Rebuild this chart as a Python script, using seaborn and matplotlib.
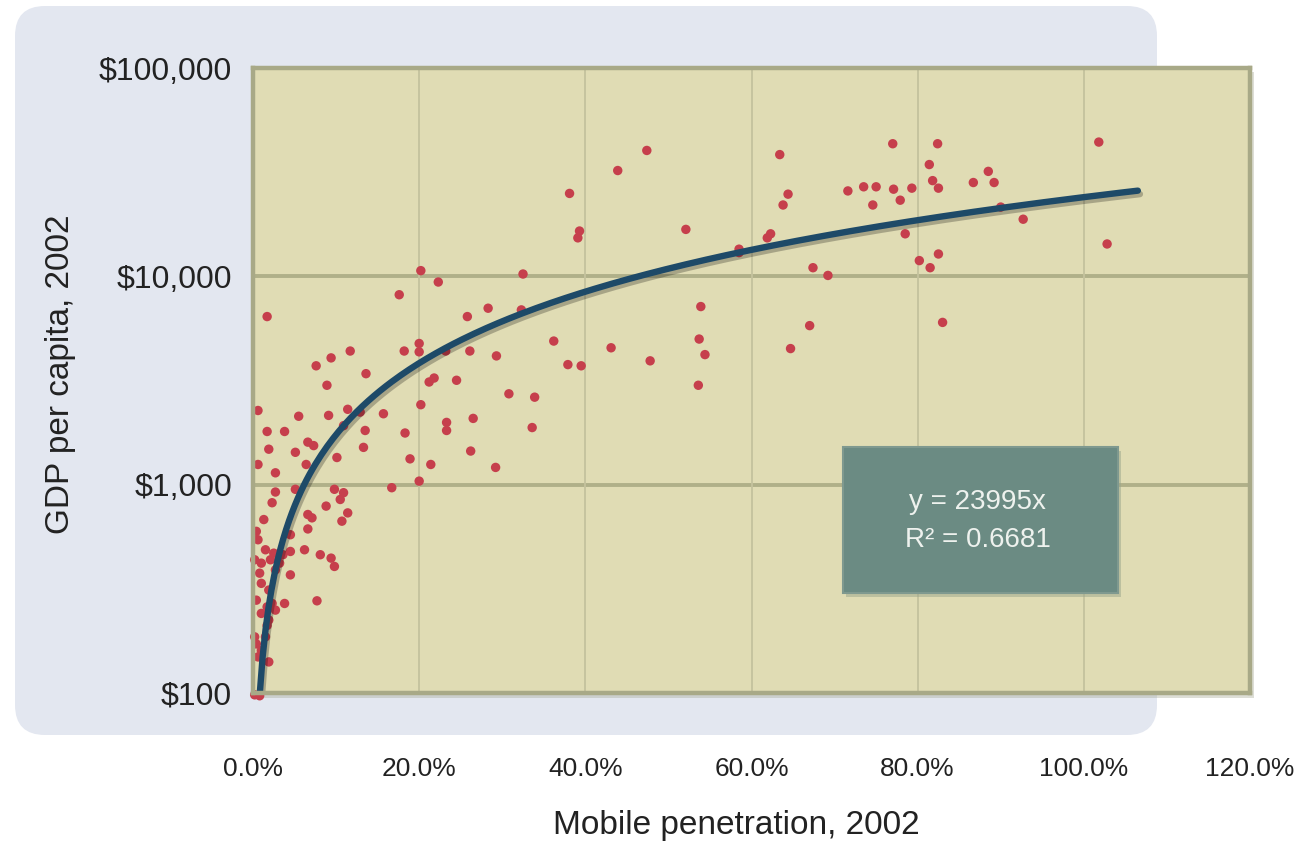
import numpy as np
import pandas as pd
import matplotlib
matplotlib.use("Agg")
import matplotlib.pyplot as plt
import matplotlib.patheffects as pe
from matplotlib.patches import FancyBboxPatch, Rectangle
from matplotlib.ticker import FixedLocator, NullLocator
import seaborn as sns

# Mobile penetration (share of population) and GDP per capita (US$), 2002
mobile_pen = [
    0.006, 0.055, 0.091, 0.114, 0.129, 0.157, 0.202, 0.233, 0.233, 0.017,
    0.038, 0.066, 0.073, 0.109, 0.135, 0.183, 0.019, 0.051, 0.133, 0.006,
    0.027, 0.064, 0.101, 0.189, 0.214, 0.167, 0.200, 0.027, 0.051, 0.098,
    0.109, 0.105, 0.023, 0.088, 0.114, 0.066, 0.071, 0.013, 0.107, 0.066,
    0.004, 0.006, 0.045, 0.015, 0.025, 0.036, 0.021, 0.010, 0.032, 0.045,
    0.062, 0.081, 0.094, 0.098, 0.045, 0.008, 0.010, 0.019, 0.004, 0.023,
    0.038, 0.077, 0.010, 0.019, 0.017, 0.004, 0.010, 0.006, 0.019, 0.008,
    0.002, 0.027, 0.002, 0.017, 0.027, 0.002, 0.015,
    0.202, 0.223, 0.325, 0.176, 0.017, 0.258, 0.283, 0.323, 0.362, 0.182,
    0.200, 0.200, 0.117, 0.094, 0.076, 0.232, 0.261, 0.293, 0.136, 0.089,
    0.212, 0.218, 0.245, 0.308, 0.339,
    0.474, 0.439, 0.381, 0.393, 0.391, 0.521, 0.585, 0.585, 0.539, 0.431,
    0.537, 0.544, 0.379, 0.395, 0.478, 0.536, 0.265, 0.336, 0.262, 0.292,
    0.634, 0.770, 0.824, 1.018, 0.814, 0.885, 0.644, 0.638, 0.716, 0.735,
    0.750, 0.771, 0.793, 0.746, 0.779, 0.818, 0.825, 0.867, 0.892, 0.900,
    0.927, 0.623, 0.619, 0.785, 1.028, 0.825, 0.802, 0.815, 0.674, 0.692,
    0.670, 0.830, 0.647,
]
gdp_pc = [
    2270, 2130, 2150, 2300, 2230, 2190, 2420, 1990, 1820, 1800,
    1800, 1600, 1540, 1920, 1820, 1770, 1480, 1430, 1510, 1250,
    1140, 1250, 1350, 1330, 1250, 967, 1040, 922, 950, 950,
    915, 849, 819, 789, 732, 719, 693, 680, 668, 613,
    597, 544, 575, 487, 469, 461, 436, 420, 420, 478,
    487, 461, 444, 405, 369, 376, 336, 312, 279, 269,
    269, 277, 241, 224, 211, 172, 160, 149, 141, 97,
    98, 390, 436, 259, 250, 186, 186,
    10650, 9390, 10260, 8160, 6410, 6410, 7030, 6900, 4890, 4380,
    4760, 4340, 4380, 4060, 3720, 4380, 4380, 4150, 3410, 3000,
    3110, 3250, 3170, 2730, 2630,
    40200, 32200, 25000, 16500, 15300, 16800, 13500, 13000, 7160, 4540,
    5000, 4210, 3770, 3720, 3930, 3000, 2080, 1880, 1450, 1210,
    38400, 43300, 43300, 44100, 34400, 31900, 24800, 22000, 25700, 26900,
    26900, 26200, 26500, 22000, 23200, 28800, 26500, 28200, 28200, 21500,
    18800, 16000, 15300, 16000, 14300, 12800, 11900, 11000, 11000, 10100,
    5800, 6010, 4500,
]

# power trendline y = a * x^b (Excel style), and its stats
trend_coef = 23995
trend_exp = 1.14
trend_range = [0.008, 1.065]
r_squared = 0.6681

x_ticks = [0.0, 0.2, 0.4, 0.6, 0.8, 1.0, 1.2]
x_ticklabels = ["0.0%", "20.0%", "40.0%", "60.0%", "80.0%", "100.0%", "120.0%"]
y_ticks = [100, 1000, 10000, 100000]
y_ticklabels = ["$100", "$1,000", "$10,000", "$100,000"]

df = pd.DataFrame({"mobile": mobile_pen, "gdp": gdp_pc})
trend_x = np.linspace(trend_range[0], trend_range[1], 300)
trend = pd.DataFrame({"mobile": trend_x, "gdp": trend_coef * trend_x ** trend_exp})

sns.set_style("white")
plt.rcParams["font.family"] = ["Liberation Sans", "DejaVu Sans"]

W, H = 1302, 841
fig = plt.figure(figsize=(W / 100, H / 100), dpi=100)
fig.patch.set_facecolor("white")

# background panel (pixel coordinates)
bg = fig.add_axes([0, 0, 1, 1], zorder=0)
bg.set_xlim(0, W)
bg.set_ylim(H, 0)
bg.axis("off")
bg.add_patch(FancyBboxPatch((15, 6), 1142, 729,
                            boxstyle="round,pad=0,rounding_size=30",
                            facecolor="#e3e7f0", edgecolor="none"))
# soft shadow under plot frame
bg.add_patch(Rectangle((256, 72), 998, 626, facecolor="#9fa38c",
                       alpha=0.35, edgecolor="none"))

left, right, top, bottom = 253, 1250, 68, 693
ax = fig.add_axes([left / W, 1 - bottom / H, (right - left) / W, (bottom - top) / H], zorder=1)
ax.set_facecolor("#e0dcb4")

ax.set_yscale("log")
ax.set_xlim(0, 1.2)
ax.set_ylim(100, 100000)

# grid
for yv in [1000, 10000]:
    ax.axhline(yv, color="#b0b089", lw=2.8, zorder=1)
for xv in x_ticks[1:-1]:
    ax.axvline(xv, color="#c4c29d", lw=1.3, zorder=1)

sns.scatterplot(data=df, x="mobile", y="gdp", ax=ax, color="#c63f4c", s=46,
                edgecolor="none", linewidth=0, zorder=3, clip_on=False, legend=False)

sns.lineplot(data=trend, x="mobile", y="gdp", ax=ax, color="#1e4a68", lw=4.6,
             zorder=4, legend=False,
             path_effects=[pe.SimpleLineShadow(offset=(1.5, -2.5), alpha=0.25), pe.Normal()])

for s in ax.spines.values():
    s.set_visible(True)
    s.set_color("#a8a987")
    s.set_linewidth(3.2)
    s.set_zorder(6)

ax.xaxis.set_major_locator(FixedLocator(x_ticks))
ax.set_xticklabels(x_ticklabels)
ax.yaxis.set_major_locator(FixedLocator(y_ticks))
ax.set_yticklabels(y_ticklabels)
ax.yaxis.set_minor_locator(NullLocator())
ax.tick_params(axis="x", length=0, pad=46, labelsize=19, labelcolor="#222222")
ax.tick_params(axis="y", length=0, pad=15, labelsize=23, labelcolor="#222222")

ax.set_xlabel("Mobile penetration, 2002", fontsize=24, color="#222222")
ax.set_ylabel("GDP per capita, 2002", fontsize=24, color="#222222")
ax.xaxis.set_label_coords(0.4845, -0.187)
ax.yaxis.set_label_coords(-0.178, 0.51)

# equation box
bx0, bx1 = (843 - left) / (right - left), (1118 - left) / (right - left)
by0, by1 = (bottom - 593) / (bottom - top), (bottom - 447) / (bottom - top)
ax.add_patch(Rectangle((bx0 + 0.003, by0 - 0.006), bx1 - bx0, by1 - by0,
                       transform=ax.transAxes, facecolor="#9aa58c", alpha=0.5,
                       edgecolor="none", zorder=5))
ax.add_patch(Rectangle((bx0, by0), bx1 - bx0, by1 - by0, transform=ax.transAxes,
                       facecolor="#6b8b83", edgecolor="#7f998f", lw=1.5, zorder=5))
bxc = (bx0 + bx1) / 2 - 0.003
ax.text(bxc, (bottom - 502) / (bottom - top), f"y = {trend_coef}x", transform=ax.transAxes,
        ha="center", va="center", fontsize=20, color="#eef2ee", zorder=6)
ax.text(bxc, (bottom - 540) / (bottom - top), f"R² = {r_squared}", transform=ax.transAxes,
        ha="center", va="center", fontsize=20, color="#eef2ee", zorder=6)

fig.savefig("out.png", dpi=100, facecolor="white")
